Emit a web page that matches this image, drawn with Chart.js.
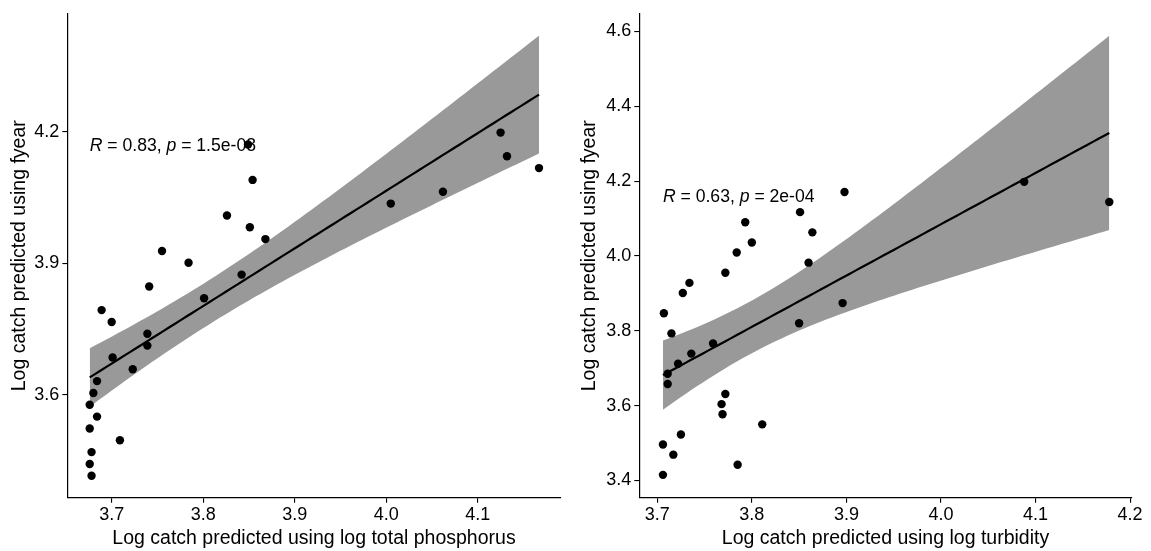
<!DOCTYPE html>
<html>
<head>
<meta charset="utf-8">
<script src="https://cdn.jsdelivr.net/npm/chart.js"></script>
<style>
  html, body { margin: 0; padding: 0; background: #fff; }
  .panel { position: absolute; top: 0; height: 551px; }
  #leftPanel { left: 0; width: 575px; }
  #rightPanel { left: 575px; width: 576px; }
</style>
</head>
<body>
<div class="panel" id="leftPanel"><canvas id="chartTP"></canvas></div>
<div class="panel" id="rightPanel"><canvas id="chartTurb"></canvas></div>
<script>
// y values (same response in both panels), sorted low to high
const catchFyear = [3.415, 3.442, 3.469, 3.496, 3.523, 3.550, 3.577, 3.604, 3.631, 3.658,
                    3.685, 3.712, 3.739, 3.766, 3.793, 3.820, 3.847, 3.874, 3.901, 3.928,
                    3.955, 3.982, 4.009, 4.036, 4.063, 4.090, 4.117, 4.144, 4.171, 4.198];

// x values, left panel (total phosphorus model)
const catchPhosphorus = [3.678, 3.676, 3.678, 3.709, 3.676, 3.684, 3.676, 3.680, 3.684, 3.723,
                         3.701, 3.739, 3.739, 3.700, 3.689, 3.801, 3.741, 3.842, 3.784, 3.755,
                         3.868, 3.851, 3.826, 4.005, 4.062, 3.854, 4.167, 4.132, 3.849, 4.125];

// x values, right panel (turbidity model)
const catchTurbidity = [3.706, 3.785, 3.717, 3.706, 3.725, 3.811, 3.769, 3.768, 3.772, 3.711,
                        3.711, 3.722, 3.736, 3.759, 3.715, 3.850, 3.707, 3.896, 3.727, 3.734,
                        3.772, 3.860, 3.784, 3.800, 3.864, 3.793, 3.851, 4.178, 3.898, 4.088];

const ticksXLeft = [3.7, 3.8, 3.9, 4.0, 4.1];
const ticksYLeft = [3.6, 3.9, 4.2];
const ticksXRight = [3.7, 3.8, 3.9, 4.0, 4.1, 4.2];
const ticksYRight = [3.4, 3.6, 3.8, 4.0, 4.2, 4.4, 4.6];

// axis limits
const limXLeft = [3.6515, 4.1907];
const limYLeft = [3.365, 4.469];
const limXRight = [3.681, 4.2017];
const limYRight = [3.354, 4.647];

const statLeft = { r: "0.83", p: "1.5e-08", y: 4.168 };
const statRight = { r: "0.63", p: "2e-04", y: 4.158 };

const FONT = "'Liberation Sans', Arial, sans-serif";

// simple lm fit with 95% confidence band (like geom_smooth(method = "lm"))
function lmBand(xs, ys) {
  const n = xs.length;
  const xbar = xs.reduce((a, b) => a + b, 0) / n;
  const ybar = ys.reduce((a, b) => a + b, 0) / n;
  let sxx = 0, sxy = 0;
  for (let i = 0; i < n; i++) {
    sxx += (xs[i] - xbar) ** 2;
    sxy += (xs[i] - xbar) * (ys[i] - ybar);
  }
  const slope = sxy / sxx;
  const icpt = ybar - slope * xbar;
  let sse = 0;
  for (let i = 0; i < n; i++) sse += (ys[i] - icpt - slope * xs[i]) ** 2;
  const s = Math.sqrt(sse / (n - 2));
  const tq = 2.048; // t(0.975, 28)
  const lo = Math.min(...xs), hi = Math.max(...xs);
  const fit = [], upper = [], lower = [];
  for (let k = 0; k < 80; k++) {
    const x = lo + (hi - lo) * k / 79;
    const yh = icpt + slope * x;
    const se = s * Math.sqrt(1 / n + (x - xbar) ** 2 / sxx);
    fit.push({ x: x, y: yh });
    upper.push({ x: x, y: yh + tq * se });
    lower.push({ x: x, y: yh - tq * se });
  }
  return { fit, upper, lower };
}

const corLabel = {
  id: "corLabel",
  afterDatasetsDraw(chart, args, opts) {
    const ctx = chart.ctx;
    let x = chart.scales.x.getPixelForValue(opts.x);
    const y = chart.scales.y.getPixelForValue(opts.y);
    const parts = [
      ["R", true], [" = " + opts.r + ", ", false], ["p", true], [" = " + opts.p, false]
    ];
    ctx.save();
    ctx.fillStyle = "#000";
    ctx.textBaseline = "middle";
    ctx.textAlign = "left";
    parts.forEach(([txt, it]) => {
      ctx.font = (it ? "italic " : "") + "17.6px " + FONT;
      ctx.fillText(txt, x, y);
      x += ctx.measureText(txt).width;
    });
    ctx.restore();
  }
};

function makeChart(canvasId, xs, ys, xTitle, ticksX, ticksY, limX, limY, stat, lay) {
  const band = lmBand(xs, ys);
  const points = xs.map((x, i) => ({ x: x, y: ys[i] }));

  return new Chart(document.getElementById(canvasId), {
    type: "scatter",
    data: {
      datasets: [
        { type: "scatter", data: points, pointRadius: 4.2, pointBackgroundColor: "#000",
          pointBorderWidth: 0, order: 0 },
        { type: "line", data: band.fit, borderColor: "#000", borderWidth: 2.2,
          pointRadius: 0, fill: false, order: 1 },
        { type: "line", data: band.upper, borderWidth: 0, borderColor: "rgba(0,0,0,0)",
          pointRadius: 0, fill: "+1", backgroundColor: "#999999", order: 2 },
        { type: "line", data: band.lower, borderWidth: 0, borderColor: "rgba(0,0,0,0)",
          pointRadius: 0, fill: false, order: 3 }
      ]
    },
    options: {
      responsive: true,
      maintainAspectRatio: false,
      animation: false,
      layout: { padding: { left: 0, top: 7, right: lay.right, bottom: 0 } },
      plugins: {
        legend: { display: false },
        tooltip: { enabled: false },
        corLabel: { x: Math.min(...xs), y: stat.y, r: stat.r, p: stat.p }
      },
      scales: {
        x: {
          type: "linear",
          min: limX[0],
          max: limX[1],
          afterBuildTicks: (s) => { s.ticks = ticksX.map(v => ({ value: v })); },
          afterFit: (s) => { s.height = 53.3; },
          grid: { display: true, drawOnChartArea: false, drawTicks: true, tickLength: 5,
                  color: "#000", lineWidth: 1.1 },
          border: { display: true, color: "#000", width: 1.2 },
          ticks: { color: "#000", font: { family: FONT, size: 18 }, padding: 2,
                   maxRotation: 0, autoSkip: false,
                   callback: (v) => Number(v).toFixed(1) },
          title: { display: true, text: xTitle, color: "#000",
                   font: { family: FONT, size: 19.5, lineHeight: 1.2 },
                   padding: { top: 0, bottom: 0.6 } }
        },
        y: {
          type: "linear",
          min: limY[0],
          max: limY[1],
          afterBuildTicks: (s) => { s.ticks = ticksY.map(v => ({ value: v })); },
          afterFit: (s) => { s.width = lay.yWidth; },
          grid: { display: true, drawOnChartArea: false, drawTicks: true, tickLength: 5,
                  color: "#000", lineWidth: 1.1 },
          border: { display: true, color: "#000", width: 1.2 },
          ticks: { color: "#000", font: { family: FONT, size: 18 }, padding: 3,
                   autoSkip: false,
                   callback: (v) => Number(v).toFixed(1) },
          title: { display: true, text: "Log catch predicted using fyear", color: "#000",
                   font: { family: FONT, size: 19.5, lineHeight: 1.2 },
                   padding: { top: lay.titlePad, bottom: 0 } }
        }
      }
    },
    plugins: [corLabel]
  });
}

makeChart("chartTP", catchPhosphorus, catchFyear,
  "Log catch predicted using log total phosphorus",
  ticksXLeft, ticksYLeft, limXLeft, limYLeft, statLeft,
  { right: 14.3, yWidth: 67.3, titlePad: 8.3 });

makeChart("chartTurb", catchTurbidity, catchFyear,
  "Log catch predicted using log turbidity",
  ticksXRight, ticksYRight, limXRight, limYRight, statRight,
  { right: 19.3, yWidth: 64.3, titlePad: 3 });
</script>
</body>
</html>
